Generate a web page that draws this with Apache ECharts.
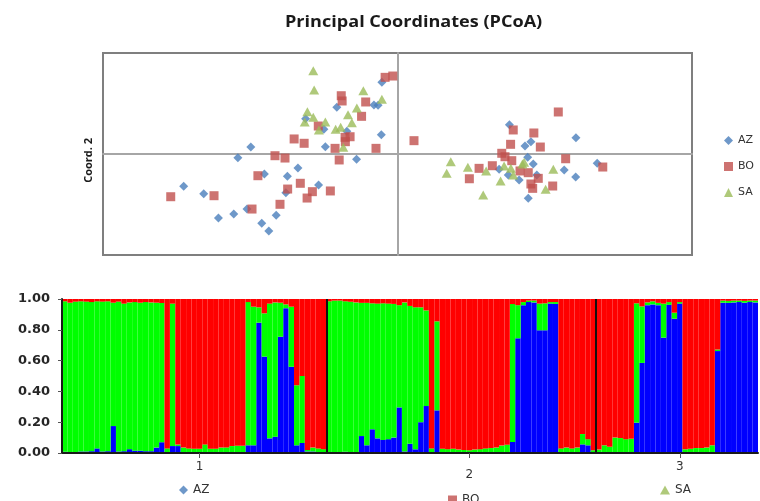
<!DOCTYPE html>
<html>
<head>
<meta charset="utf-8">
<script src="https://cdn.jsdelivr.net/npm/echarts@6/dist/echarts.min.js"></script>
<style>
  html, body { margin: 0; padding: 0; background: #fff; }
  #chart { width: 760px; height: 501px; }
</style>
</head>
<body>
<div id="chart"></div>
<script>
// PCoA coordinates (axis units are arbitrary, -1..1)
const azPoints = [
  [-0.053, 0.71], [-0.206, 0.462], [-0.08, 0.485], [-0.066, 0.482], [-0.25, 0.245],
  [-0.172, 0.225], [-0.055, 0.191], [-0.245, 0.072], [-0.139, -0.052], [-0.498, 0.069],
  [-0.542, -0.037], [-0.338, -0.139], [-0.452, -0.198], [-0.374, -0.221], [-0.268, -0.307],
  [-0.379, -0.383], [-0.726, -0.32], [-0.658, -0.393], [-0.511, -0.545], [-0.556, -0.594],
  [-0.608, -0.634], [-0.412, -0.607], [-0.461, -0.686], [-0.437, -0.762], [-0.312, 0.35],
  [0.38, 0.29], [0.433, 0.079], [0.453, 0.122], [0.606, 0.161], [0.442, -0.033],
  [0.461, -0.099], [0.345, -0.151], [0.376, -0.208], [0.413, -0.257], [0.473, -0.208],
  [0.566, -0.158], [0.605, -0.228], [0.678, -0.092], [0.444, -0.439]
]
const boPoints = [
  [-0.042, 0.759], [-0.016, 0.772], [-0.191, 0.577], [-0.188, 0.525], [-0.108, 0.515],
  [-0.122, 0.373], [-0.269, 0.277], [-0.178, 0.165], [-0.161, 0.171], [-0.177, 0.122],
  [-0.212, 0.056], [-0.073, 0.056], [-0.351, 0.149], [-0.317, 0.106], [-0.416, -0.017],
  [-0.382, -0.04], [-0.198, -0.059], [-0.474, -0.215], [-0.373, -0.347], [-0.33, -0.29],
  [-0.289, -0.373], [-0.307, -0.436], [-0.228, -0.366], [-0.623, -0.413], [-0.77, -0.423],
  [-0.494, -0.545], [-0.399, -0.498], [0.056, 0.132],
  [0.546, 0.416], [0.393, 0.238], [0.463, 0.208], [0.384, 0.096], [0.485, 0.069],
  [0.354, 0.007], [0.365, -0.027], [0.388, -0.066], [0.571, -0.047], [0.277, -0.142],
  [0.322, -0.116], [0.244, -0.245], [0.416, -0.168], [0.444, -0.185], [0.478, -0.241],
  [0.453, -0.297], [0.459, -0.34], [0.527, -0.317], [0.697, -0.129]
]
const saPoints = [
  [-0.286, 0.825], [-0.283, 0.634], [-0.116, 0.627], [-0.053, 0.542], [-0.306, 0.419],
  [-0.315, 0.317], [-0.286, 0.363], [-0.245, 0.317], [-0.267, 0.238], [-0.168, 0.389],
  [-0.138, 0.455], [-0.155, 0.31], [-0.21, 0.245], [-0.193, 0.264], [-0.184, 0.066],
  [0.181, -0.076], [0.167, -0.191], [0.239, -0.132], [0.301, -0.168], [0.291, -0.406],
  [0.35, -0.267], [0.362, -0.119], [0.385, -0.142], [0.393, -0.208], [0.424, -0.099],
  [0.43, -0.082], [0.529, -0.151], [0.503, -0.35]
]

// STRUCTURE membership per individual (bottom to top: blue, green, red)
const blueQ = [
  .008, .005, .007, .01, .01, .012, .03, .01, .012, .175, .01, .012, .025, .015, .015, .012, .012, .035, .07, .005,
  .045, .045, .005, .005, .005, .005, .005, .005, .005, .005, .005, .005, .005, .005, .05, .05, .846, .626, .095, .106,
  .755, .94, .56, .05, .065, .01, .01, .005, .005,
  .005, .005, .005, .008, .005, .005, .11, .05, .154, .095, .085, .09, .1, .296, .01, .06, .024, .2, .305, .005,
  .277, .005, .005, .005, .005, .005, .005, .005, .005, .005, .005, .005, .005, .005, .072, .745, .96, .98, .978, .797,
  .797, .97, .968, .005, .005, .005, .005, .056, .05, .005,
  .005, .005, .005, .005, .005, .005, .005, .197, .585, .96, .965, .96, .749, .962, .872, .97, .005, .005, .005, .005,
  .005, .005, .662, .976, .975, .978, .98, .976, .98, .978
]
const greenQ = [
  .977, .971, .976, .975, .973, .968, .955, .973, .973, .801, .973, .958, .953, .965, .961, .968, .966, .941, .904, .025,
  .925, .01, .03, .025, .023, .023, .051, .023, .023, .03, .031, .04, .042, .042, .93, .9, .1, .281, .875, .872,
  .221, .025, .39, .39, .435, .01, .025, .025, .02,
  .98, .985, .985, .977, .977, .973, .865, .925, .818, .875, .887, .88, .868, .664, .968, .895, .922, .746, .621, .025,
  .578, .023, .02, .023, .017, .015, .013, .017, .02, .025, .027, .03, .043, .049, .895, .215, .02, .01, .012, .173,
  .175, .01, .012, .025, .03, .025, .03, .067, .04, .013,
  .017, .045, .035, .095, .092, .085, .087, .775, .367, .018, .02, .015, .221, .018, .039, .01, .019, .023, .027, .027,
  .03, .045, .01, .014, .013, .012, .01, .012, .01, .012
]
const redQ = [
  .015, .024, .017, .015, .017, .02, .015, .017, .015, .024, .017, .03, .022, .02, .024, .02, .022, .024, .026, .97,
  .03, .945, .965, .97, .972, .972, .944, .972, .972, .965, .964, .955, .953, .953, .02, .05, .054, .093, .03, .022,
  .024, .035, .05, .56, .5, .98, .965, .97, .975,
  .015, .01, .01, .015, .018, .022, .025, .025, .028, .03, .028, .03, .032, .04, .022, .045, .054, .054, .074, .97,
  .145, .972, .975, .972, .978, .98, .982, .978, .975, .97, .968, .965, .952, .946, .033, .04, .02, .01, .01, .03,
  .028, .02, .02, .97, .965, .97, .965, .877, .91, .982,
  .978, .95, .96, .9, .903, .91, .908, .028, .048, .022, .015, .025, .03, .02, .089, .02, .976, .972, .968, .968,
  .965, .95, .328, .01, .012, .01, .01, .012, .01, .01
]

const popLabels = ['1', '2', '3']
const popLabelIndex = [25, 75, 114]
const popBoundaries = [49, 99]   // individual index where a new population starts
const yTicks = [0, 0.2, 0.4, 0.6, 0.8, 1]

const individuals = blueQ.map((_, i) => 'ind' + (i + 1))

const FONT = '"DejaVu Sans", sans-serif'
const COLORS = { AZ: '#4a7ebb', BO: '#c0504d', SA: '#9bbb59' }

const chart = echarts.init(document.getElementById('chart'), null, { renderer: 'canvas' })

const option = {
  animation: false,
  backgroundColor: '#fff',
  textStyle: { fontFamily: FONT },
  graphic: [
    {
      // the reference title is drawn a little wide, hence the horizontal scale
      type: 'text',
      left: 285,
      top: 14,
      scaleX: 1.13,
      style: {
        text: 'Principal Coordinates (PCoA)',
        font: 'bold 16px "Open Sans", sans-serif',
        fill: '#1a1a1a'
      }
    },
    {
      type: 'text',
      left: 83,
      top: 138,
      rotation: Math.PI / 2,
      style: {
        text: 'Coord. 2',
        font: 'bold 11px "Open Sans", sans-serif',
        fill: '#1a1a1a'
      }
    }
  ],
  legend: [
    {
      orient: 'vertical',
      left: 719,
      top: 130,
      itemGap: 15,
      itemWidth: 9,
      itemHeight: 9,
      textStyle: { fontSize: 11, color: '#333' },
      data: [
        { name: 'AZ', icon: 'diamond' },
        { name: 'BO', icon: 'rect' },
        { name: 'SA', icon: 'triangle' }
      ]
    },
    {
      left: 174, top: 479, itemWidth: 9, itemHeight: 9, itemGap: 4,
      textStyle: { fontSize: 12, color: '#333' },
      data: [{ name: 'AZ', icon: 'diamond' }]
    },
    {
      left: 443, top: 489, itemWidth: 9, itemHeight: 9, itemGap: 4,
      textStyle: { fontSize: 12, color: '#333' },
      data: [{ name: 'BO', icon: 'rect' }]
    },
    {
      left: 655, top: 479, itemWidth: 10, itemHeight: 9, itemGap: 4,
      textStyle: { fontSize: 12, color: '#333' },
      data: [{ name: 'SA', icon: 'triangle' }]
    }
  ],
  grid: [
    {
      left: 103, top: 53, width: 589, height: 202,
      show: true, borderColor: '#7f7f7f', borderWidth: 2, backgroundColor: 'transparent'
    },
    {
      left: 62, top: 299, width: 696, height: 154
    }
  ],
  xAxis: [
    {
      gridIndex: 0, type: 'value', min: -1, max: 1,
      axisLine: { show: true, onZero: true, lineStyle: { color: '#a6a6a6', width: 2 } },
      axisTick: { show: false }, axisLabel: { show: false }, splitLine: { show: false }
    },
    {
      gridIndex: 1, type: 'category', data: individuals, boundaryGap: true, z: 5,
      axisLine: { show: true, lineStyle: { color: '#1a1a1a', width: 2 } },
      axisTick: {
        show: true, alignWithLabel: true, length: 5,
        interval: (idx) => popLabelIndex.includes(idx),
        lineStyle: { color: '#555' }
      },
      axisLabel: {
        interval: (idx) => popLabelIndex.includes(idx),
        formatter: (val, idx) => {
          const k = popLabelIndex.indexOf(idx)
          if (k < 0) return ''
          return k === 1 ? '{low|' + popLabels[k] + '}' : popLabels[k]
        },
        rich: { low: { fontSize: 12, color: '#333', padding: [8, 0, 0, 0] } },
        margin: 8, fontSize: 12, color: '#333'
      },
      splitLine: { show: false }
    },
    {
      // helper axis over the same grid, counting individuals 0..N, used for the population separators
      gridIndex: 1, type: 'value', min: 0, max: individuals.length, show: false
    }
  ],
  yAxis: [
    {
      gridIndex: 0, type: 'value', min: -1, max: 1,
      axisLine: { show: true, onZero: true, lineStyle: { color: '#a6a6a6', width: 2 } },
      axisTick: { show: false }, axisLabel: { show: false }, splitLine: { show: false }
    },
    {
      gridIndex: 1, type: 'value', min: 0, max: 1, interval: 0.2, z: 5,
      axisLine: { show: true, lineStyle: { color: '#1a1a1a', width: 2 } },
      axisTick: { show: true, length: 4, lineStyle: { color: '#555' } },
      axisLabel: {
        formatter: (v) => (yTicks.includes(+v.toFixed(1)) ? v.toFixed(2) : ''),
        margin: 12, fontSize: 13, fontWeight: 'bold', color: '#262626'
      },
      splitLine: { show: false }
    }
  ],
  series: [
    {
      name: 'AZ', type: 'scatter', xAxisIndex: 0, yAxisIndex: 0,
      symbol: 'diamond', symbolSize: 9, itemStyle: { color: COLORS.AZ }, data: azPoints
    },
    {
      name: 'BO', type: 'scatter', xAxisIndex: 0, yAxisIndex: 0,
      symbol: 'rect', symbolSize: 9, itemStyle: { color: COLORS.BO }, data: boPoints
    },
    {
      name: 'SA', type: 'scatter', xAxisIndex: 0, yAxisIndex: 0,
      symbol: 'triangle', symbolSize: [10, 9], itemStyle: { color: COLORS.SA }, data: saPoints
    },
    {
      name: 'cluster blue', type: 'bar', xAxisIndex: 1, yAxisIndex: 1, stack: 'q',
      barCategoryGap: '0%', itemStyle: { color: '#0000ff' }, data: blueQ, silent: true
    },
    {
      name: 'cluster green', type: 'bar', xAxisIndex: 1, yAxisIndex: 1, stack: 'q',
      barCategoryGap: '0%', itemStyle: { color: '#00ff00' }, data: greenQ, silent: true
    },
    {
      name: 'cluster red', type: 'bar', xAxisIndex: 1, yAxisIndex: 1, stack: 'q',
      barCategoryGap: '0%', itemStyle: { color: '#ff0000' }, data: redQ, silent: true
    },
    {
      name: 'separators', type: 'scatter', xAxisIndex: 2, yAxisIndex: 1, data: [], silent: true,
      markLine: {
        silent: true, symbol: 'none', label: { show: false },
        lineStyle: { color: '#111', width: 2, type: 'solid' },
        data: popBoundaries.map((b) => ({ xAxis: b }))
      },
      z: 6
    }
  ]
}

chart.setOption(option)
</script>
</body>
</html>
